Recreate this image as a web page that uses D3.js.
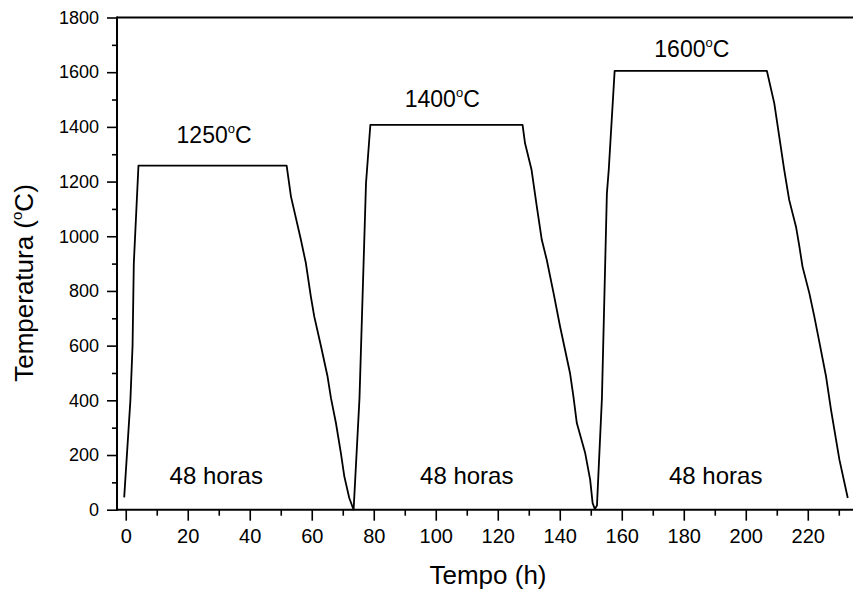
<!DOCTYPE html>
<html>
<head>
<meta charset="utf-8">
<script src="https://cdn.jsdelivr.net/npm/d3@7/dist/d3.min.js"></script>
<style>
  html, body { margin: 0; padding: 0; background: #fff; }
  svg { display: block; }
  text { font-family: "Liberation Sans", Arial, sans-serif; fill: #000; }
</style>
</head>
<body>
<svg id="chart" width="853" height="593"></svg>
<script>
// ---- data ----
const timeHours = [-0.5, 1.5, 2.2, 2.6, 4.1, 51.9, 53.3, 56.5, 58.1, 59.7, 60.8, 63.0, 65.1, 66.2, 67.8, 69.4, 70.5, 72.1, 73.5,
  75.4, 77.5, 78.9, 128.0, 128.8, 130.9, 132.6, 134.2, 135.8, 138.0, 140.1, 141.7, 143.3, 144.4, 145.5, 148.2, 149.8, 150.6, 151.3,
  152.0, 153.6, 155.2, 155.8, 157.7, 206.8, 209.2, 210.8, 212.4, 214.0, 216.2, 217.3, 218.3, 220.5, 222.1, 223.8, 225.9, 227.5, 230.2, 232.9];
const temperature = [45, 400, 600, 900, 1258, 1258, 1145, 987, 902, 780, 707, 597, 487, 408, 317, 207, 122, 43, 0,
  408, 1194, 1407, 1407, 1340, 1243, 1108, 987, 914, 792, 670, 585, 500, 414, 317, 207, 110, 24, 3,
  15, 408, 1157, 1243, 1605, 1605, 1486, 1364, 1243, 1133, 1035, 962, 889, 792, 707, 609, 487, 365, 183, 43];

const plateauLabels = ["1250", "1400", "1600"];
const plateauLabelX = [28.5, 102.1, 182.6];
const plateauLabelY = [1341, 1473, 1656];
const durationLabels = ["48 horas", "48 horas", "48 horas"];
const durationLabelX = [29.2, 110.0, 190.3];
const durationLabelY = [95, 95, 95];

const xMajorTicks = d3.range(0, 221, 20);
const xMinorTicks = d3.range(10, 231, 20);
const yMajorTicks = d3.range(0, 1801, 200);
const yMinorTicks = d3.range(100, 1800, 200);

const xTitle = "Tempo (h)";
const yTitleMain = "Temperatura (";
const yTitleSup = "o";
const yTitleEnd = "C)";

// ---- layout ----
const svg = d3.select("#chart");
const pLeft = 117, pRight = 858, pTop = 17.5, pBottom = 509.7;

const x = d3.scaleLinear().domain([-2.82, 236.2]).range([pLeft, pRight]);
const y = d3.scaleLinear().domain([0, 1800]).range([pBottom, pTop]);

// X axis
const gx = svg.append("g").attr("transform", `translate(0,${pBottom})`);
gx.call(d3.axisBottom(x).tickValues(xMajorTicks).tickSize(11).tickPadding(8).tickFormat(d3.format("d")));
gx.append("g").call(d3.axisBottom(x).tickValues(xMinorTicks).tickSize(6).tickFormat(""));
gx.selectAll(".tick line").attr("stroke-width", 1.6);
gx.selectAll(".tick text").style("font-size", "20px");

// Y axis
const gy = svg.append("g").attr("transform", `translate(${pLeft},0)`);
gy.call(d3.axisLeft(y).tickValues(yMajorTicks).tickSize(10).tickPadding(8).tickFormat(d3.format("d")));
gy.append("g").call(d3.axisLeft(y).tickValues(yMinorTicks).tickSize(5).tickFormat(""));
gy.selectAll(".tick line").attr("stroke-width", 1.6);
gy.selectAll(".tick text").style("font-size", "18px");
svg.selectAll(".domain").remove();

// frame lines
svg.append("line").attr("x1", pLeft).attr("x2", pRight).attr("y1", pTop).attr("y2", pTop)
  .attr("stroke", "#000").attr("stroke-width", 2);
svg.append("line").attr("x1", pLeft).attr("x2", pRight).attr("y1", pBottom).attr("y2", pBottom)
  .attr("stroke", "#000").attr("stroke-width", 2);
svg.append("line").attr("x1", pLeft).attr("x2", pLeft).attr("y1", pTop - 1).attr("y2", pBottom + 1)
  .attr("stroke", "#000").attr("stroke-width", 2);

// Data line
const pts = timeHours.map((t, i) => [t, temperature[i]]);
svg.append("path")
  .datum(pts)
  .attr("fill", "none")
  .attr("stroke", "#000")
  .attr("stroke-width", 1.8)
  .attr("stroke-linejoin", "round")
  .attr("d", d3.line().x(d => x(d[0])).y(d => y(d[1])));

// Plateau labels with superscript degree
plateauLabels.forEach((lab, i) => {
  const t = svg.append("text")
    .attr("x", x(plateauLabelX[i])).attr("y", y(plateauLabelY[i]))
    .attr("text-anchor", "middle")
    .style("font-size", "23px");
  t.append("tspan").text(lab);
  t.append("tspan").text("o").style("font-size", "13px").attr("dy", -10);
  t.append("tspan").text("C").attr("dy", 10);
});

// Duration labels
durationLabels.forEach((lab, i) => {
  svg.append("text")
    .attr("x", x(durationLabelX[i])).attr("y", y(durationLabelY[i]))
    .attr("text-anchor", "middle")
    .style("font-size", "24px")
    .text(lab);
});

// Axis titles
svg.append("text")
  .attr("x", 488).attr("y", 584)
  .attr("text-anchor", "middle")
  .style("font-size", "26px")
  .text(xTitle);

const yt = svg.append("text")
  .attr("transform", "translate(33,283) rotate(-90)")
  .attr("text-anchor", "middle")
  .style("font-size", "26px");
yt.append("tspan").text(yTitleMain);
yt.append("tspan").text(yTitleSup).style("font-size", "15px").attr("dy", -11);
yt.append("tspan").text(yTitleEnd).attr("dy", 11);
</script>
</body>
</html>
